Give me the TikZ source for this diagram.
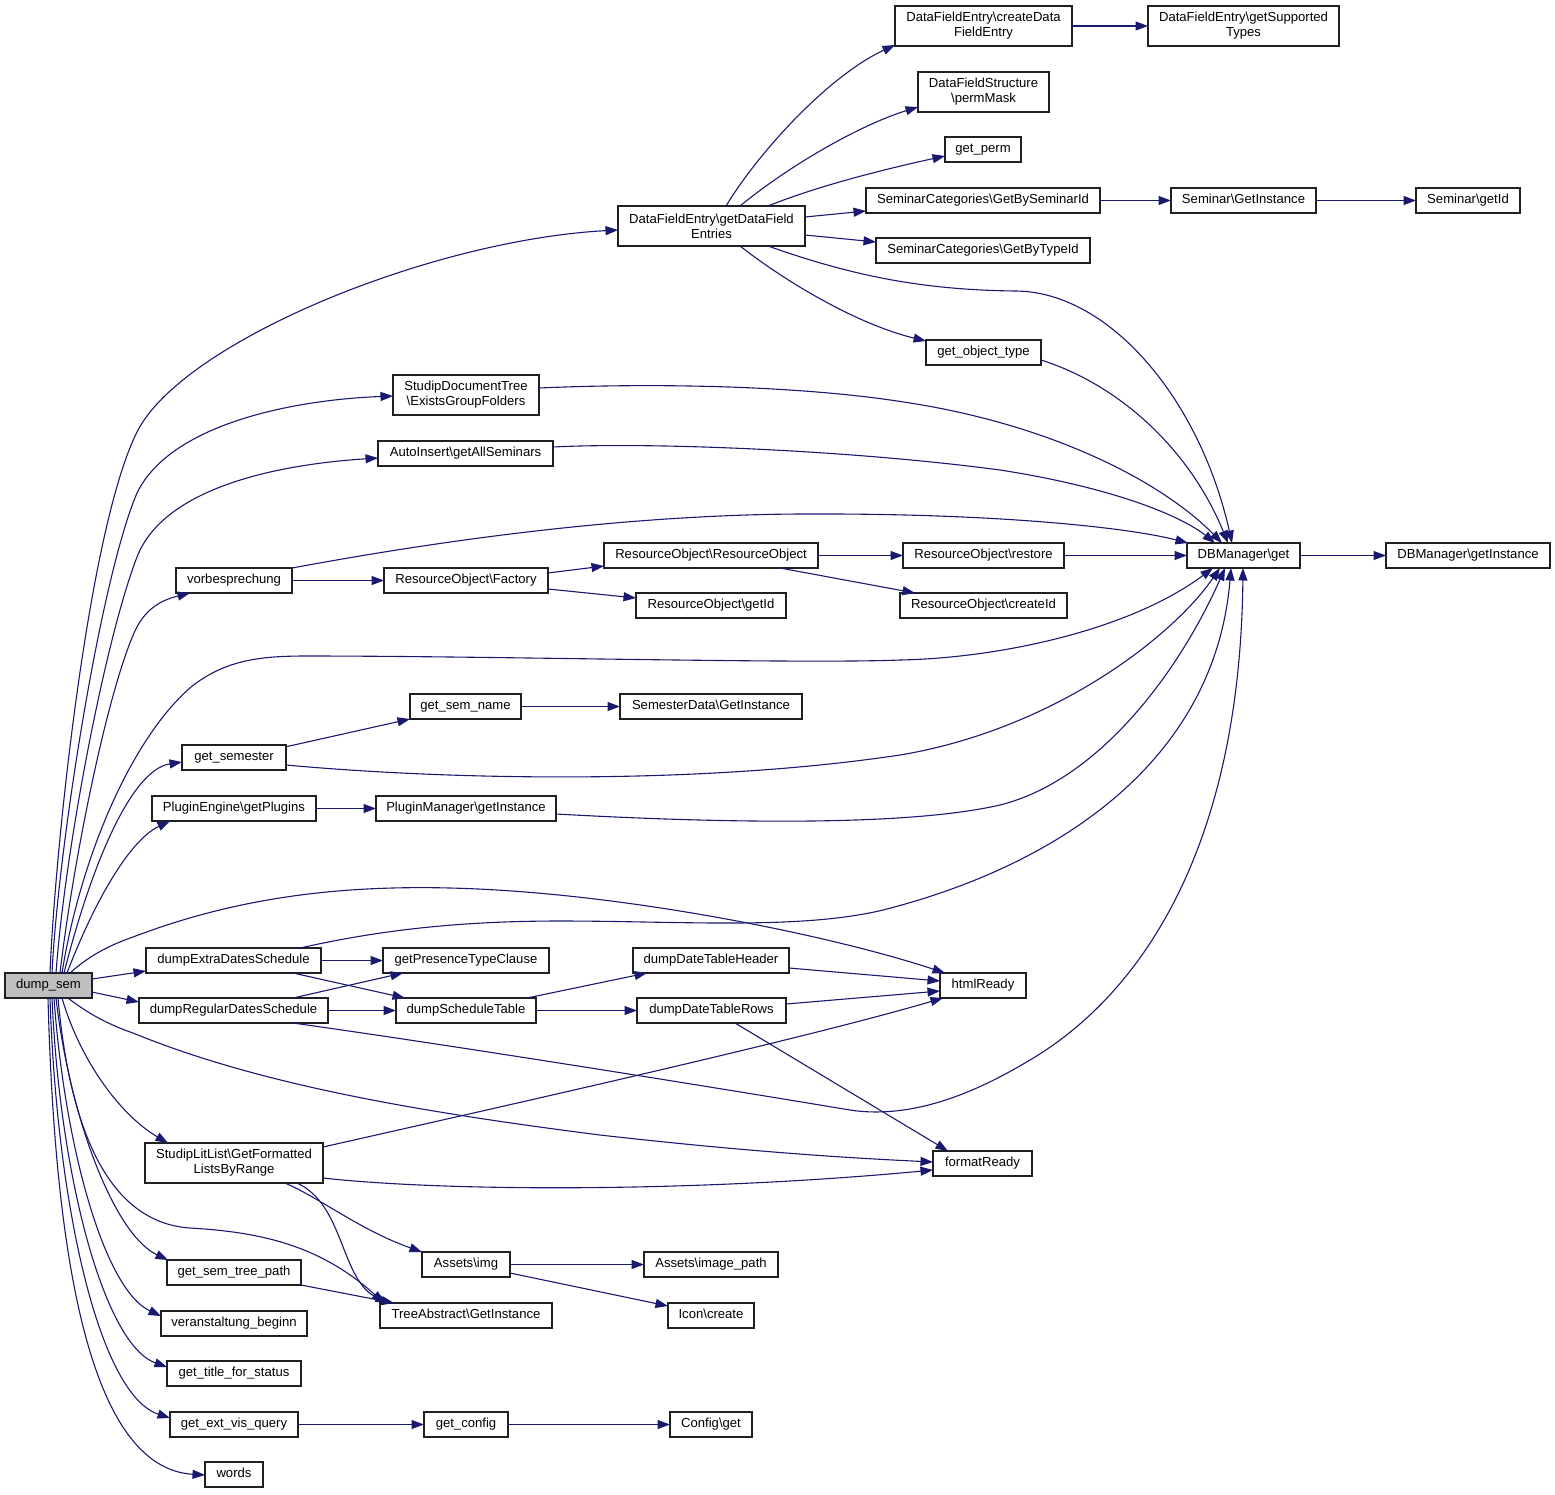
\documentclass[tikz,border=0pt]{standalone}
\usepackage{fontspec}
\setmainfont{Liberation Sans}
\usetikzlibrary{arrows.meta}
\definecolor{edgeblue}{HTML}{191970}
\definecolor{nodegray}{HTML}{BFBFBF}
\definecolor{boxline}{HTML}{202020}
\begin{document}
\begin{tikzpicture}[x=1pt,y=-1pt,
  box/.style={draw=boxline, line width=1.3pt, fill=white, inner sep=0pt, outer sep=0pt, font=\fontsize{13.1}{15}\selectfont, text height=9.6pt, text depth=2.8pt},
  boxtwo/.style={draw=boxline, line width=1.3pt, fill=white, inner sep=0pt, outer sep=0pt, font=\fontsize{13.1}{15}\selectfont, align=center},
  edg/.style={draw=edgeblue, line width=1.1pt, -{Triangle[length=12.5pt,width=9pt]}}]
\useasboundingbox (0,0) rectangle (1555,1494);
% nodes
\node[box, fill=nodegray, minimum width=87pt, minimum height=25pt] (dump) at (48.5,985.5) {dump\_sem};
\node[boxtwo, minimum width=187pt, minimum height=40pt] (gdfe) at (711.5,226) {DataFieldEntry\textbackslash getDataField\\Entries};
\node[boxtwo, minimum width=177pt, minimum height=40pt] (cdfe) at (983.5,26) {DataFieldEntry\textbackslash createData\\FieldEntry};
\node[boxtwo, minimum width=191pt, minimum height=40pt] (gst) at (1243.5,26) {DataFieldEntry\textbackslash getSupported\\Types};
\node[boxtwo, minimum width=131pt, minimum height=40pt] (pm) at (983.5,92) {DataFieldStructure\\\textbackslash permMask};
\node[box, minimum width=76pt, minimum height=25pt] (gp) at (983,149.5) {get\_perm};
\node[box, minimum width=234pt, minimum height=25pt] (gbs) at (983,200.5) {SeminarCategories\textbackslash GetBySeminarId};
\node[box, minimum width=145pt, minimum height=25pt] (sgi) at (1243.5,200.5) {Seminar\textbackslash GetInstance};
\node[box, minimum width=104pt, minimum height=25pt] (sgid) at (1468,200.5) {Seminar\textbackslash getId};
\node[box, minimum width=214pt, minimum height=25pt] (gbt) at (983,250.5) {SeminarCategories\textbackslash GetByTypeId};
\node[box, minimum width=115pt, minimum height=25pt] (got) at (983.5,352.5) {get\_object\_type};
\node[boxtwo, minimum width=146pt, minimum height=40pt] (egf) at (466,395) {StudipDocumentTree\\\textbackslash ExistsGroupFolders};
\node[box, minimum width=175pt, minimum height=25pt] (gas) at (465.5,453.5) {AutoInsert\textbackslash getAllSeminars};
\node[box, minimum width=113pt, minimum height=25pt] (dbg) at (1243.5,555.5) {DBManager\textbackslash get};
\node[box, minimum width=164pt, minimum height=25pt] (dbgi) at (1468,555.5) {DBManager\textbackslash getInstance};
\node[box, minimum width=214pt, minimum height=25pt] (rro) at (711,555.5) {ResourceObject\textbackslash ResourceObject};
\node[box, minimum width=161pt, minimum height=25pt] (rres) at (983.5,555.5) {ResourceObject\textbackslash restore};
\node[box, minimum width=116pt, minimum height=25pt] (vor) at (234,580.5) {vorbesprechung};
\node[box, minimum width=164pt, minimum height=25pt] (rof) at (466,580.5) {ResourceObject\textbackslash Factory};
\node[box, minimum width=150pt, minimum height=25pt] (rgid) at (711,605.5) {ResourceObject\textbackslash getId};
\node[box, minimum width=167pt, minimum height=25pt] (rcid) at (983.5,605.5) {ResourceObject\textbackslash createId};
\node[box, minimum width=111pt, minimum height=25pt] (gsn) at (465.5,706.5) {get\_sem\_name};
\node[box, minimum width=182pt, minimum height=25pt] (sdgi) at (711,706.5) {SemesterData\textbackslash GetInstance};
\node[box, minimum width=104pt, minimum height=25pt] (gsem) at (234,757.5) {get\_semester};
\node[box, minimum width=164pt, minimum height=25pt] (peg) at (234,808.5) {PluginEngine\textbackslash getPlugins};
\node[box, minimum width=180pt, minimum height=25pt] (pmgi) at (466,808.5) {PluginManager\textbackslash getInstance};
\node[box, minimum width=175pt, minimum height=25pt] (dex) at (233.5,960.5) {dumpExtraDatesSchedule};
\node[box, minimum width=166pt, minimum height=25pt] (gptc) at (466,960.5) {getPresenceTypeClause};
\node[box, minimum width=156pt, minimum height=25pt] (ddth) at (711,960.5) {dumpDateTableHeader};
\node[box, minimum width=86pt, minimum height=25pt] (html) at (983,985.5) {htmlReady};
\node[box, minimum width=189pt, minimum height=25pt] (dreg) at (233.5,1010.5) {dumpRegularDatesSchedule};
\node[box, minimum width=140pt, minimum height=25pt] (dst) at (466,1010.5) {dumpScheduleTable};
\node[box, minimum width=149pt, minimum height=25pt] (ddtr) at (711.5,1010.5) {dumpDateTableRows};
\node[boxtwo, minimum width=178pt, minimum height=40pt] (glit) at (234,1163) {StudipLitList\textbackslash GetFormatted\\ListsByRange};
\node[box, minimum width=99pt, minimum height=25pt] (fmt) at (982.5,1163.5) {formatReady};
\node[box, minimum width=88pt, minimum height=25pt] (aimg) at (466,1264.5) {Assets\textbackslash img};
\node[box, minimum width=134pt, minimum height=25pt] (aip) at (711,1264.5) {Assets\textbackslash image\_path};
\node[box, minimum width=134pt, minimum height=25pt] (gstp) at (234,1272.5) {get\_sem\_tree\_path};
\node[box, minimum width=172pt, minimum height=25pt] (tai) at (466,1315.5) {TreeAbstract\textbackslash GetInstance};
\node[box, minimum width=86pt, minimum height=25pt] (icon) at (711,1315.5) {Icon\textbackslash create};
\node[box, minimum width=146pt, minimum height=25pt] (vb) at (234,1323.5) {veranstaltung\_beginn};
\node[box, minimum width=134pt, minimum height=25pt] (gtfs) at (234,1373.5) {get\_title\_for\_status};
\node[box, minimum width=128pt, minimum height=25pt] (gevq) at (234,1424.5) {get\_ext\_vis\_query};
\node[box, minimum width=84pt, minimum height=25pt] (gcfg) at (466,1424.5) {get\_config};
\node[box, minimum width=82pt, minimum height=25pt] (cfg) at (711,1424.5) {Config\textbackslash get};
\node[box, minimum width=58pt, minimum height=25pt] (words) at (234,1474.5) {words};
% edges from dump_sem
\draw[edg] ([shift={(45,0)}]dump.north west) .. controls (55,850) and (88,530) .. (137,432) .. controls (182,342) and (430,240) .. ([shift={(0,24)}]gdfe.north west);
\draw[edg] ([shift={(47,0)}]dump.north west) .. controls (58,850) and (100,580) .. (137,493) .. controls (170,425) and (290,400) .. ([shift={(0,21)}]egf.north west);
\draw[edg] ([shift={(51,0)}]dump.north west) .. controls (65,850) and (105,640) .. (137,557) .. controls (163,490) and (270,465) .. ([shift={(0,17)}]gas.north west);
\draw[edg] ([shift={(55,0)}]dump.north west) .. controls (72,870) and (105,700) .. (134,633) .. controls (145,608) and (162,600) .. ([shift={(14,25)}]vor.north west);
\draw[edg] ([shift={(57,0)}]dump.north west) .. controls (80,860) and (130,740) .. (191,687) .. controls (225,660) and (260,656) .. (306,656) .. controls (500,656) and (800,664) .. (900,660) .. controls (1000,658) and (1130,630) .. ([shift={(26,25)}]dbg.north west);
\draw[edg] ([shift={(59,0)}]dump.north west) .. controls (90,870) and (130,770) .. ([shift={(0,17)}]gsem.north west);
\draw[edg] ([shift={(62,0)}]dump.north west) .. controls (95,900) and (130,840) .. ([shift={(18,25)}]peg.north west);
\draw[edg] ([shift={(65,0)}]dump.north west) .. controls (90,955) and (110,945) .. (133,937) .. controls (230,900) and (330,885) .. (450,888) .. controls (620,892) and (830,935) .. ([shift={(5,0)}]html.north west);
\draw[edg] ([shift={(87,6)}]dump.north west) -- ([shift={(0,23)}]dex.north west);
\draw[edg] ([shift={(87,19)}]dump.north west) -- ([shift={(0,4)}]dreg.north west);
\draw[edg] ([shift={(63,25)}]dump.north west) .. controls (90,1015) and (110,1025) .. (133,1033) .. controls (260,1085) and (420,1112) .. (600,1135) .. controls (750,1152) and (850,1158) .. ([shift={(0,11)}]fmt.north west);
\draw[edg] ([shift={(57,25)}]dump.north west) .. controls (80,1060) and (120,1115) .. ([shift={(23,0)}]glit.north west);
\draw[edg] ([shift={(53,25)}]dump.north west) .. controls (68,1110) and (100,1222) .. (190,1228) .. controls (260,1232) and (320,1245) .. ([shift={(4,0)}]tai.north west);
\draw[edg] ([shift={(51,25)}]dump.north west) .. controls (70,1120) and (115,1235) .. ([shift={(1,0)}]gstp.north west);
\draw[edg] ([shift={(49,25)}]dump.north west) .. controls (65,1150) and (105,1290) .. ([shift={(0,5)}]vb.north west);
\draw[edg] ([shift={(47,25)}]dump.north west) .. controls (60,1180) and (105,1345) .. ([shift={(0,6)}]gtfs.north west);
\draw[edg] ([shift={(45,25)}]dump.north west) .. controls (57,1210) and (100,1395) .. ([shift={(0,6)}]gevq.north west);
\draw[edg] ([shift={(43,25)}]dump.north west) .. controls (55,1260) and (90,1468) .. ([shift={(0,13)}]words.north west);
% other edges
\draw[edg] ([shift={(108,0)}]gdfe.north west) .. controls (760,150) and (830,75) .. ([shift={(0,39)}]cdfe.north west);
\draw[edg] ([shift={(122,0)}]gdfe.north west) .. controls (790,165) and (860,125) .. ([shift={(0,35)}]pm.north west);
\draw[edg] ([shift={(150,0)}]gdfe.north west) .. controls (820,185) and (890,168) .. ([shift={(0,19)}]gp.north west);
\draw[edg] ([shift={(187,11)}]gdfe.north west) -- ([shift={(0,23)}]gbs.north west);
\draw[edg] ([shift={(187,29)}]gdfe.north west) -- ([shift={(0,4)}]gbt.north west);
\draw[edg] ([shift={(122,40)}]gdfe.north west) .. controls (790,285) and (860,325) .. ([shift={(0,1)}]got.north west);
\draw[edg] ([shift={(150,40)}]gdfe.north west) .. controls (850,275) and (920,290) .. (1016,291) .. controls (1110,292) and (1200,400) .. ([shift={(45,0)}]dbg.north west);
\draw[edg] (cdfe.east) -- (gst.west);
\draw[edg] (gbs.east) -- (sgi.west);
\draw[edg] (sgi.east) -- (sgid.west);
\draw[edg] ([shift={(115,20)}]got.north west) .. controls (1120,385) and (1190,450) .. ([shift={(41,0)}]dbg.north west);
\draw[edg] ([shift={(146,13)}]egf.north west) .. controls (650,383) and (800,385) .. (910,403) .. controls (1050,425) and (1160,480) .. ([shift={(35,0)}]dbg.north west);
\draw[edg] ([shift={(175,6)}]gas.north west) .. controls (650,442) and (850,450) .. (1000,470) .. controls (1110,487) and (1180,515) .. ([shift={(28,0)}]dbg.north west);
\draw[edg] ([shift={(116,0)}]vor.north west) .. controls (400,548) and (600,515) .. (800,514) .. controls (1000,513) and (1130,528) .. ([shift={(1,0)}]dbg.north west);
\draw[edg] (vor.east) -- (rof.west);
\draw[edg] ([shift={(164,5)}]rof.north west) -- ([shift={(0,23)}]rro.north west);
\draw[edg] ([shift={(164,21)}]rof.north west) -- ([shift={(0,5)}]rgid.north west);
\draw[edg] (rro.east) -- (rres.west);
\draw[edg] ([shift={(176,25)}]rro.north west) -- ([shift={(15,0)}]rcid.north west);
\draw[edg] (rres.east) -- (dbg.west);
\draw[edg] (dbg.east) -- (dbgi.west);
\draw[edg] ([shift={(103,2)}]gsem.north west) -- ([shift={(0,25)}]gsn.north west);
\draw[edg] ([shift={(104,20)}]gsem.north west) .. controls (450,780) and (700,785) .. (900,755) .. controls (1050,730) and (1170,640) .. ([shift={(33,25)}]dbg.north west);
\draw[edg] (gsn.east) -- (sdgi.west);
\draw[edg] (peg.east) -- (pmgi.west);
\draw[edg] ([shift={(180,18)}]pmgi.north west) .. controls (700,822) and (900,828) .. (1000,805) .. controls (1100,780) and (1180,670) .. ([shift={(38,25)}]dbg.north west);
\draw[edg] (dex.east) -- (gptc.west);
\draw[edg] ([shift={(147,25)}]dex.north west) -- ([shift={(9,0)}]dst.north west);
\draw[edg] ([shift={(154,0)}]dreg.north west) -- ([shift={(20,25)}]gptc.north west);
\draw[edg] (dreg.east) -- (dst.west);
\draw[edg] ([shift={(154,0)}]dex.north west) .. controls (380,930) and (460,921) .. (560,921) .. controls (680,921) and (800,930) .. (883,910) .. controls (1060,865) and (1215,760) .. ([shift={(44,25)}]dbg.north west);
\draw[edg] ([shift={(154,25)}]dreg.north west) .. controls (450,1045) and (700,1085) .. (850,1110) .. controls (915,1120) and (980,1090) .. (1030,1060) .. controls (1140,995) and (1240,850) .. ([shift={(56,25)}]dbg.north west);
\draw[edg] ([shift={(131,0)}]dst.north west) -- ([shift={(14,25)}]ddth.north west);
\draw[edg] (dst.east) -- (ddtr.west);
\draw[edg] ([shift={(156,20)}]ddth.north west) -- ([shift={(0,8)}]html.north west);
\draw[edg] ([shift={(149,6)}]ddtr.north west) -- ([shift={(0,18)}]html.north west);
\draw[edg] ([shift={(98,25)}]ddtr.north west) -- ([shift={(15,0)}]fmt.north west);
\draw[edg] ([shift={(178,4)}]glit.north west) .. controls (500,1107) and (800,1040) .. ([shift={(3,25)}]html.north west);
\draw[edg] ([shift={(178,35)}]glit.north west) .. controls (450,1192) and (700,1192) .. ([shift={(0,19)}]fmt.north west);
\draw[edg] ([shift={(140,40)}]glit.north west) .. controls (320,1198) and (360,1230) .. (aimg.north west);
\draw[edg] ([shift={(152,40)}]glit.north west) .. controls (345,1205) and (340,1280) .. ([shift={(8,0)}]tai.north west);
\draw[edg] ([shift={(134,25)}]gstp.north west) -- ([shift={(14,0)}]tai.north west);
\draw[edg] (aimg.east) -- (aip.west);
\draw[edg] ([shift={(88,21)}]aimg.north west) -- ([shift={(0,3)}]icon.north west);
\draw[edg] (gevq.east) -- (gcfg.west);
\draw[edg] (gcfg.east) -- (cfg.west);
\end{tikzpicture}
\end{document}
